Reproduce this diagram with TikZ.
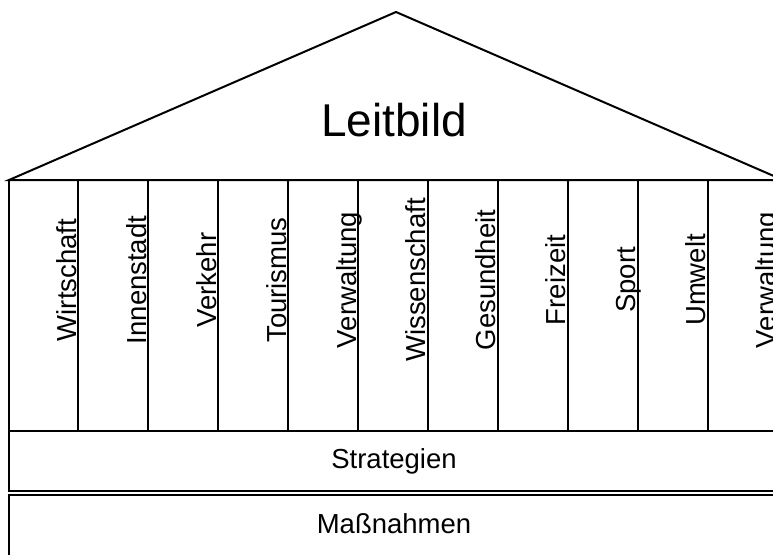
\documentclass[tikz,border=0pt]{standalone}
\usepackage{fontspec}
\setmainfont{Liberation Sans}
\usetikzlibrary{positioning,calc}

\tikzset{
  pillartext/.style={rotate=90,anchor=base,inner sep=0pt,
    font=\fontsize{27.5}{30}\selectfont},
  bandtext/.style={anchor=base,inner sep=0pt,
    font=\fontsize{27.5}{30}\selectfont},
}

\begin{document}
\begin{tikzpicture}[x=1pt,y=-1pt,line width=2pt,line join=miter]
  \useasboundingbox (0,0) rectangle (773,554);
  \clip (0,0) rectangle (773,554);
  %% Define coordinate labels.
  % roof corners and apex
  \path (9,180) coordinate (roofl)
        (783,180) coordinate (roofr)
        (396,12) coordinate (apex);

  % Draw roof.
  \draw (roofl) -- (apex) -- (roofr) -- cycle;
  \node[anchor=base,inner sep=0pt,font=\fontsize{46}{50}\selectfont]
    (leitbild) at (394,136) {Leitbild};

  % Draw pillars.
  \foreach \name [count=\i] in {Wirtschaft,Innenstadt,Verkehr,Tourismus,
      Verwaltung,Wissenschaft,Gesundheit,Freizeit,Sport,Umwelt,Verwaltung} {
    \draw (8.5+69.9*\i-69.9,180) rectangle (8.5+69.9*\i,431);
    \node[pillartext] (pillar\i) at (6.5+69.9*\i,280) {\name};
  }

  % Draw bands.
  \draw (8.5,431) rectangle (777.4,491);
  \node[bandtext] (strategien) at (394,468) {Strategien};
  \draw (8.5,495) rectangle (777.4,570);
  \node[bandtext] (massnahmen) at (394,533) {Maßnahmen};
\end{tikzpicture}
\end{document}
